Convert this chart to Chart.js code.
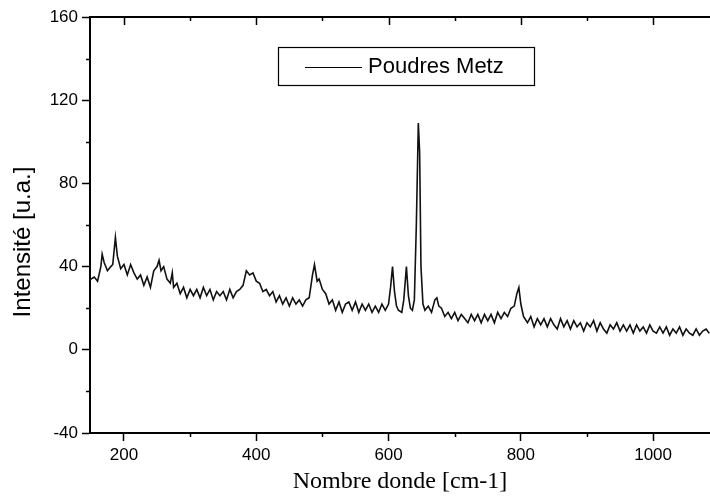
<!DOCTYPE html>
<html>
<head>
<meta charset="utf-8">
<script src="https://cdn.jsdelivr.net/npm/chart.js@4/dist/chart.umd.min.js"></script>
<style>
  html, body { margin: 0; padding: 0; background: #fff; }
  #wrap { width: 710px; height: 500px; }
</style>
</head>
<body>
<div id="wrap"><canvas id="raman" width="710" height="500"></canvas></div>
<script>
/* Spectre Raman – Poudres Metz */

const seriesLabel = 'Poudres Metz';
const xTitle = 'Nombre donde [cm-1]';
const yTitle = 'Intensité [u.a.]';

const waveNumbers = [
  148, 150, 155, 160, 165, 167, 170, 175, 180, 183, 187, 190, 195, 200, 205, 210, 215, 220, 225, 230,
  235, 240, 245, 250, 253, 256, 260, 265, 270, 273, 275, 280, 285, 290, 295, 300, 305, 310, 315, 320,
  325, 330, 335, 340, 345, 350, 355, 360, 365, 370, 375, 380, 385, 390, 395, 400, 405, 410, 415, 420,
  425, 430, 435, 440, 445, 450, 455, 460, 465, 470, 475, 480, 485, 488, 492, 495, 500, 505, 510, 515,
  520, 525, 530, 535, 540, 545, 550, 555, 560, 565, 570, 575, 580, 585, 590, 595, 600, 603, 606, 609,
  612, 615, 620, 623, 627, 630, 633, 636, 639, 642, 645, 647, 649, 652, 655, 660, 665, 670, 673, 676,
  680, 685, 690, 695, 700, 705, 710, 715, 720, 725, 730, 735, 740, 745, 750, 755, 760, 765, 770, 775,
  780, 785, 790, 794, 797, 800, 804, 810, 815, 820, 825, 830, 835, 840, 845, 850, 855, 860, 865, 870,
  875, 880, 885, 890, 895, 900, 905, 910, 915, 920, 925, 930, 935, 940, 945, 950, 955, 960, 965, 970,
  975, 980, 985, 990, 995, 1000, 1005, 1010, 1015, 1020, 1025, 1030, 1035, 1040, 1045, 1050, 1055, 1060, 1065, 1070,
  1075, 1080, 1085
];

const intensity = [
  33, 34, 35, 33, 40, 46, 42, 38, 40, 41, 54, 45, 39, 41, 36, 41, 37, 34, 36, 31,
  35, 30, 38, 40, 43, 38, 40, 34, 32, 37, 30, 32, 27, 30, 25, 29, 26, 29, 25, 30,
  26, 29, 24, 28, 26, 28, 24, 29, 25, 28, 29, 31, 38, 36, 37, 33, 32, 28, 29, 26,
  28, 23, 26, 22, 25, 21, 25, 22, 24, 21, 24, 25, 36, 41, 33, 34, 29, 27, 22, 24,
  19, 23, 18, 22, 23, 19, 23, 18, 22, 19, 22, 18, 21, 18, 22, 19, 22, 30, 40, 28,
  21, 19, 18, 24, 40, 26, 20, 19, 24, 60, 109, 95, 40, 22, 19, 21, 18, 24, 25, 21,
  20, 16, 18, 15, 18, 14, 17, 15, 13, 17, 14, 17, 13, 17, 14, 17, 13, 18, 15, 18,
  16, 20, 21, 27, 30, 22, 16, 13, 16, 11, 15, 12, 15, 11, 15, 12, 10, 15, 11, 14,
  10, 14, 11, 13, 9, 13, 11, 14, 9, 13, 10, 8, 12, 10, 13, 9, 12, 9, 12, 8,
  12, 9, 11, 8, 12, 9, 8, 11, 8, 11, 7, 10, 8, 11, 7, 10, 8, 7, 10, 7,
  9, 10, 8
];

const xMajorTicks = [200, 400, 600, 800, 1000];
const xMinorTicks = [300, 500, 700, 900];
const yMinorTicks = [140, 100, 60, 20, -20];

const X_MIN = 148.6, X_MAX = 1086;
const Y_MIN = -40, Y_MAX = 160;

const AXIS_FONT = '"Liberation Sans", Arial, sans-serif';

const framePlugin = {
  id: 'frame',
  afterDraw(chart) {
    const { ctx, chartArea: a, scales: { x, y } } = chart;
    ctx.save();
    ctx.strokeStyle = '#000';

    // top border
    ctx.lineWidth = 2;
    ctx.beginPath();
    ctx.moveTo(a.left, a.top);
    ctx.lineTo(a.right, a.top);
    ctx.stroke();

    ctx.lineWidth = 1.5;
    ctx.beginPath();
    xMajorTicks.forEach(v => {
      const px = Math.round(x.getPixelForValue(v)) + 0.5;
      ctx.moveTo(px, a.top); ctx.lineTo(px, a.top + 8);
    });
    xMinorTicks.forEach(v => {
      const px = Math.round(x.getPixelForValue(v)) + 0.5;
      ctx.moveTo(px, a.top); ctx.lineTo(px, a.top + 4);
      ctx.moveTo(px, a.bottom); ctx.lineTo(px, a.bottom + 4);
    });
    yMinorTicks.forEach(v => {
      const py = Math.round(y.getPixelForValue(v)) + 0.5;
      ctx.moveTo(a.left - 4, py); ctx.lineTo(a.left, py);
    });
    ctx.stroke();

    // y title (sits a bit below the axis centre in the original)
    ctx.fillStyle = '#000';
    ctx.font = '24px ' + AXIS_FONT;
    ctx.textAlign = 'center';
    ctx.textBaseline = 'middle';
    ctx.translate(23, (a.top + a.bottom) / 2 + 17);
    ctx.rotate(-Math.PI / 2);
    ctx.fillText(yTitle, 0, 0);
    ctx.setTransform(1, 0, 0, 1, 0, 0);

    // legend box
    const bx = a.left + 188, by = a.top + 30, bw = 256, bh = 38;
    ctx.fillStyle = '#fff';
    ctx.fillRect(bx, by, bw, bh);
    ctx.lineWidth = 1.2;
    ctx.strokeRect(bx + 0.5, by + 0.5, bw, bh);
    ctx.lineWidth = 1;
    ctx.beginPath();
    ctx.moveTo(bx + 27, by + 20.5);
    ctx.lineTo(bx + 84, by + 20.5);
    ctx.stroke();
    ctx.fillStyle = '#000';
    ctx.font = '22px ' + AXIS_FONT;
    ctx.textAlign = 'left';
    ctx.textBaseline = 'middle';
    ctx.fillText(chart.data.datasets[0].label, bx + 90, by + 20);
    ctx.restore();
  }
};

new Chart(document.getElementById('raman'), {
  type: 'line',
  data: {
    datasets: [{
      label: seriesLabel,
      data: waveNumbers.map((w, i) => ({ x: w, y: intensity[i] })),
      borderColor: '#111',
      borderWidth: 1.6,
      pointRadius: 0,
      tension: 0,
      fill: false
    }]
  },
  options: {
    responsive: false,
    animation: false,
    devicePixelRatio: 1,
    layout: { padding: { top: 17, right: 0, left: 0, bottom: 0 } },
    plugins: { legend: { display: false }, tooltip: { enabled: false } },
    scales: {
      x: {
        type: 'linear',
        min: X_MIN,
        max: X_MAX,
        afterFit: s => { s.height = 67; },
        ticks: {
          stepSize: 200,
          includeBounds: false,
          color: '#000',
          padding: 4,
          maxRotation: 0,
          callback: v => String(v),
          font: { family: AXIS_FONT, size: 17 }
        },
        grid: { drawOnChartArea: false, drawTicks: true, tickLength: 8, tickColor: '#000', tickWidth: 1.5 },
        border: { color: '#000', width: 2 },
        title: {
          display: true,
          text: xTitle,
          color: '#000',
          font: { family: '"Liberation Serif", "Times New Roman", serif', size: 24 },
          padding: { top: 8 }
        }
      },
      y: {
        min: Y_MIN,
        max: Y_MAX,
        afterFit: s => { s.width = 90; },
        ticks: {
          stepSize: 40,
          color: '#000',
          padding: 4,
          callback: v => String(v),
          font: { family: AXIS_FONT, size: 17 }
        },
        grid: { drawOnChartArea: false, drawTicks: true, tickLength: 8, tickColor: '#000', tickWidth: 1.5 },
        border: { color: '#000', width: 2 }
      }
    }
  },
  plugins: [framePlugin]
});
</script>
</body>
</html>
